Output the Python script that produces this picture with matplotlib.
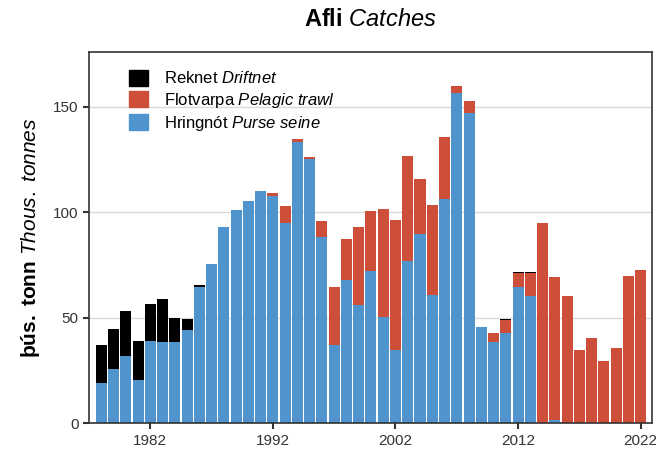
import numpy as np
from matplotlib import pyplot as plt
from matplotlib.patches import Patch

plt.rcParams['font.family'] = ['Liberation Sans', 'DejaVu Sans']
plt.rcParams['mathtext.fontset'] = 'custom'
plt.rcParams['mathtext.rm'] = 'Liberation Sans'
plt.rcParams['mathtext.it'] = 'Liberation Sans:italic'
plt.rcParams['mathtext.bf'] = 'Liberation Sans:bold'

# Afli eftir veiðarfærum, þús. tonn
years = np.arange(1978, 2023)
purse_seine = [19.0, 25.7, 32.0, 20.6, 39.1, 38.5, 38.8, 44.2, 64.7, 75.4,
               93.0, 101.3, 105.5, 110.0, 108.0, 94.9, 133.3, 125.2, 88.3, 37.2,
               68.0, 56.3, 72.3, 50.5, 34.7, 76.9, 89.8, 60.8, 106.5, 156.5,
               147.2, 45.6, 38.8, 42.7, 64.7, 60.4, 0.0, 1.7, 0.0, 0.0,
               0.0, 0.0, 0.0, 0.0, 0.0]
pelagic_trawl = [0.0, 0.0, 0.0, 0.0, 0.0, 0.0, 0.0, 0.0, 0.0, 0.0,
                 0.0, 0.0, 0.0, 0.0, 1.0, 8.3, 1.4, 1.2, 7.7, 27.5,
                 19.3, 37.0, 28.3, 51.2, 61.6, 49.7, 25.9, 42.6, 29.4, 3.5,
                 5.5, 0.3, 4.2, 6.2, 6.5, 10.8, 95.0, 67.9, 60.4, 34.7,
                 40.4, 29.6, 35.6, 69.9, 72.7]
driftnet = [18.0, 19.2, 21.2, 18.5, 17.4, 20.4, 11.3, 5.2, 0.8, 0.0,
            0.0, 0.0, 0.0, 0.0, 0.0, 0.0, 0.0, 0.0, 0.0, 0.0,
            0.0, 0.0, 0.0, 0.0, 0.0, 0.0, 0.0, 0.0, 0.0, 0.0,
            0.0, 0.0, 0.0, 0.5, 0.8, 0.8, 0.0, 0.0, 0.0, 0.0,
            0.0, 0.0, 0.0, 0.0, 0.0]

blue = '#4F94CD'
red = '#CD4F39'

fig = plt.figure(figsize=(6.56, 4.54), dpi=100)
ax = fig.add_axes([0.1357, 0.0672, 0.8577, 0.8183])

ps = np.array(purse_seine)
pt = np.array(pelagic_trawl)
ax.bar(years, ps, width=0.9, color=blue, zorder=2)
ax.bar(years, pt, width=0.9, bottom=ps, color=red, zorder=2)
ax.bar(years, driftnet, width=0.9, bottom=ps + pt, color='black', zorder=2)

ax.set_xlim(1977.0, 2022.9)
ax.set_ylim(0, 176)
ax.set_xticks([1982, 1992, 2002, 2012, 2022])
ax.set_yticks([0, 50, 100, 150])
ax.grid(axis='y', color='#d9d9d9', linewidth=1, zorder=0)
ax.tick_params(labelsize=11, length=4, width=1.5, color='#333333', labelcolor='#333333')
for s in ax.spines.values():
    s.set_color('#333333')
    s.set_linewidth(1.2)

ax.set_ylabel(r'$\mathbf{þús.\ tonn}\ \mathit{Thous.\ tonnes}$', fontsize=15, labelpad=8)
fig.text(0.564, 0.955, r'$\mathbf{Afli}\ \mathit{Catches}$', fontsize=17, ha='center', va='center')

handles = [Patch(color='black'), Patch(color=red), Patch(color=blue)]
labels = [r'Reknet $\mathit{Driftnet}$', r'Flotvarpa $\mathit{Pelagic\ trawl}$',
          r'Hringnót $\mathit{Purse\ seine}$']
ax.legend(handles, labels, loc='upper left', bbox_to_anchor=(0.06, 0.97), frameon=False,
          fontsize=12, handlelength=1.1, handleheight=1.1, labelspacing=0.25,
          handletextpad=1.0, borderaxespad=0)

plt.savefig('out.png', dpi=100)
